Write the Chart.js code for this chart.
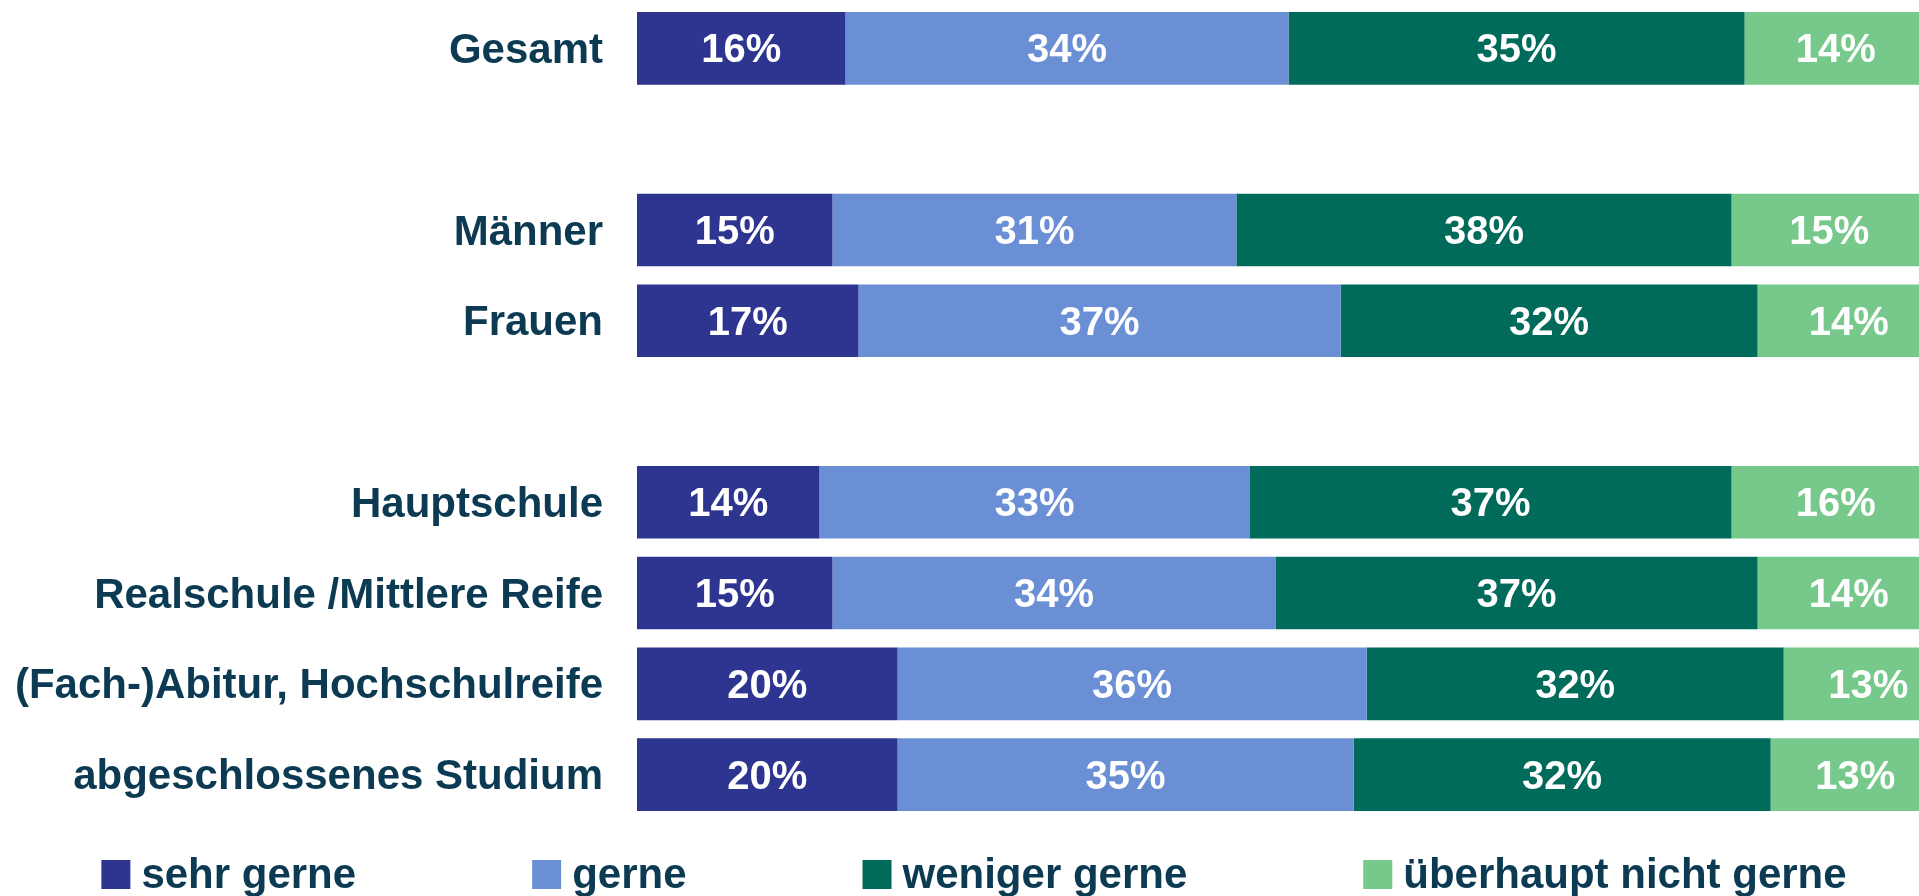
<!DOCTYPE html>
<html lang="de">
<head>
<meta charset="utf-8">
<title>Umfrage</title>
<script src="https://cdn.jsdelivr.net/npm/chart.js@4.4.1/dist/chart.umd.min.js"></script>
<style>
  html, body { margin: 0; padding: 0; background: #fff; overflow: hidden; }
  #wrap { width: 1948px; height: 896px; }
</style>
</head>
<body>
<div id="wrap"><canvas id="barChart" width="1948" height="896"></canvas></div>
<script>
// empty labels are the gaps between the groups
const categories = ["Gesamt", "", "Männer", "Frauen", "", "Hauptschule", "Realschule /Mittlere Reife", "(Fach-)Abitur, Hochschulreife", "abgeschlossenes Studium"];
const seriesNames = ["sehr gerne", "gerne", "weniger gerne", "überhaupt nicht gerne"];
const sehrGerne = [16, null, 15, 17, null, 14, 15, 20, 20];
const gerne = [34, null, 31, 37, null, 33, 34, 36, 35];
const wenigerGerne = [35, null, 38, 32, null, 37, 37, 32, 32];
const nichtGerne = [14, null, 15, 14, null, 16, 14, 13, 13];
const barColors = ["#2e3590", "#6b8fd5", "#006b5a", "#76c98a"];

const textColor = "#0b3a52";
const fontFamily = '"Liberation Sans", Arial, sans-serif';

// white percent labels in the middle of each segment
const valueLabels = {
  id: 'valueLabels',
  afterDatasetsDraw(chart) {
    const ctx = chart.ctx;
    ctx.save();
    ctx.font = '700 40px ' + fontFamily;
    ctx.fillStyle = '#fff';
    ctx.textAlign = 'center';
    ctx.textBaseline = 'middle';
    chart.data.datasets.forEach((ds, i) => {
      chart.getDatasetMeta(i).data.forEach((bar, j) => {
        const v = ds.data[j];
        if (v == null) return;
        const p = bar.getProps(['x', 'y', 'base'], true);
        ctx.fillText(v + '%', (p.x + p.base) / 2, p.y + 3);
      });
    });
    ctx.restore();
  }
};

// legend drawn by hand, the built-in one cannot do wide gaps
const bottomLegend = {
  id: 'bottomLegend',
  afterDraw(chart) {
    const ctx = chart.ctx;
    const box = 29, gap = 11, spacing = 176;
    ctx.save();
    ctx.font = '700 42px ' + fontFamily;
    const widths = seriesNames.map(n => ctx.measureText(n).width);
    let total = widths.reduce((a, b) => a + b, 0) + seriesNames.length * (box + gap) + (seriesNames.length - 1) * spacing;
    let x = chart.width / 2 - total / 2;
    ctx.textBaseline = 'alphabetic';
    seriesNames.forEach((name, i) => {
      ctx.fillStyle = barColors[i];
      ctx.fillRect(x, 860, box, box);
      ctx.fillStyle = textColor;
      ctx.fillText(name, x + box + gap, 888);
      x += box + gap + widths[i] + spacing;
    });
    ctx.restore();
  }
};

new Chart(document.getElementById('barChart'), {
  type: 'bar',
  data: {
    labels: categories,
    datasets: [
      { label: seriesNames[0], data: sehrGerne, backgroundColor: barColors[0] },
      { label: seriesNames[1], data: gerne, backgroundColor: barColors[1] },
      { label: seriesNames[2], data: wenigerGerne, backgroundColor: barColors[2] },
      { label: seriesNames[3], data: nichtGerne, backgroundColor: barColors[3] }
    ]
  },
  options: {
    indexAxis: 'y',
    responsive: false,
    animation: false,
    layout: { padding: { top: 3, bottom: 76, left: 0, right: 8 } },
    datasets: {
      bar: { barPercentage: 0.8, categoryPercentage: 1 }
    },
    scales: {
      x: {
        stacked: true,
        display: false,
        min: 0,
        max: 100
      },
      y: {
        stacked: true,
        grid: { display: false, drawTicks: false },
        border: { display: false },
        ticks: {
          padding: 34,
          labelOffset: 3,
          color: textColor,
          font: { family: fontFamily, size: 42, weight: 'bold' }
        },
        afterFit: function(scale) {
          scale.width = 637;
          // no extra room for the label halves, bars use the full height
          scale.paddingTop = 0;
          scale.paddingBottom = 0;
        }
      }
    },
    plugins: {
      legend: { display: false },
      tooltip: { enabled: false }
    }
  },
  plugins: [valueLabels, bottomLegend]
});
</script>
</body>
</html>
